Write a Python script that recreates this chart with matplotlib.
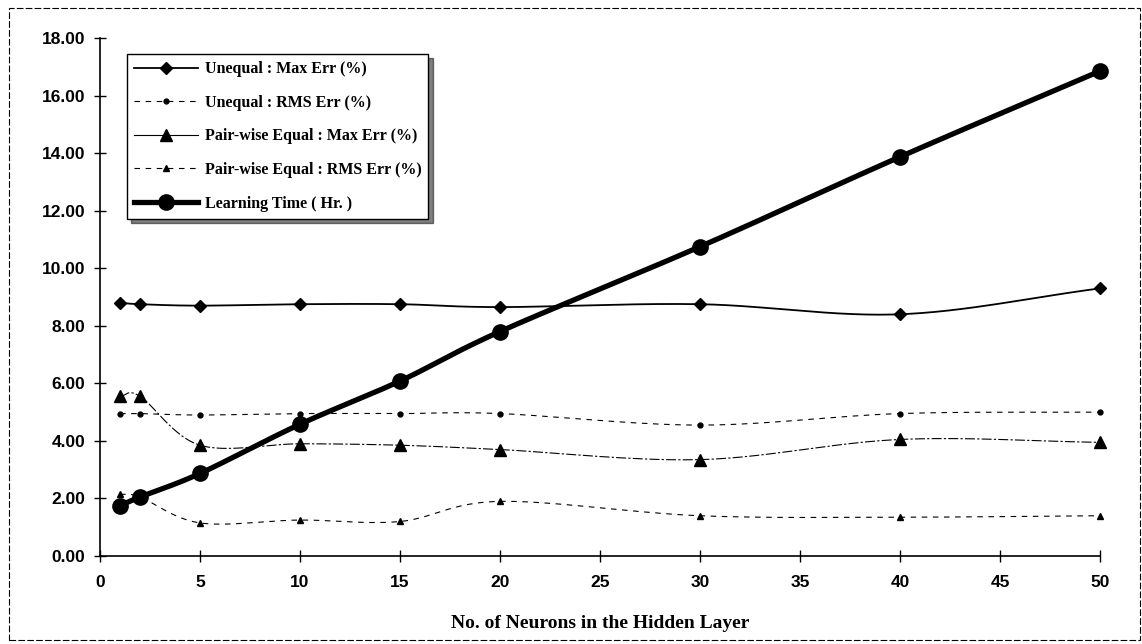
import numpy as np
import matplotlib
matplotlib.use('Agg')
import matplotlib.pyplot as plt
from matplotlib.lines import Line2D
from matplotlib.patches import Rectangle

neurons = [1, 2, 5, 10, 15, 20, 30, 40, 50]
unequal_max = [8.8, 8.75, 8.7, 8.75, 8.75, 8.65, 8.75, 8.4, 9.3]
unequal_rms = [4.95, 4.95, 4.9, 4.95, 4.95, 4.95, 4.55, 4.95, 5.0]
pair_max = [5.55, 5.55, 3.85, 3.9, 3.85, 3.7, 3.35, 4.05, 3.95]
pair_rms = [2.15, 2.05, 1.15, 1.25, 1.2, 1.9, 1.4, 1.35, 1.4]
learning = [1.75, 2.05, 2.87, 4.58, 6.08, 7.8, 10.75, 13.87, 16.85]

labels = ['Unequal : Max Err (%)', 'Unequal : RMS Err (%)',
          'Pair-wise Equal : Max Err (%)', 'Pair-wise Equal : RMS Err (%)',
          'Learning Time ( Hr. )']
x_ticks = [0, 5, 10, 15, 20, 25, 30, 35, 40, 45, 50]
y_ticks = [0, 2, 4, 6, 8, 10, 12, 14, 16, 18]


def smooth(xs, ys, sx=20.0, sy=28.8, n=30):
    # Catmull-Rom through the points (Excel style smoothed line), done in pixel-like space
    p = np.column_stack([np.asarray(xs, float) * sx, np.asarray(ys, float) * sy])
    p = np.vstack([p[0] * 2 - p[1], p, p[-1] * 2 - p[-2]])
    out = []
    for i in range(1, len(p) - 2):
        p0, p1, p2, p3 = p[i - 1], p[i], p[i + 1], p[i + 2]
        t = np.linspace(0, 1, n)[:, None]
        seg = 0.5 * ((2 * p1) + (-p0 + p2) * t + (2 * p0 - 5 * p1 + 4 * p2 - p3) * t ** 2
                     + (-p0 + 3 * p1 - 3 * p2 + p3) * t ** 3)
        out.append(seg)
    out = np.vstack(out)
    return out[:, 0] / sx, out[:, 1] / sy


fig = plt.figure(figsize=(11.42, 6.44), dpi=100)
ax = fig.add_axes([0.0876, 0.1366, 0.8756, 0.8044])

series = [
    (unequal_max, dict(ls='-', lw=1.3), dict(marker='D', ms=6.5)),
    (unequal_rms, dict(ls=(0, (5, 5)), lw=0.8), dict(marker='o', ms=3.5)),
    (pair_max, dict(ls=(0, (9, 2, 2, 2)), lw=0.8), dict(marker='^', ms=9)),
    (pair_rms, dict(ls=(0, (5, 5)), lw=0.8), dict(marker='^', ms=4.5)),
    (learning, dict(ls='-', lw=3.8), dict(marker='o', ms=11)),
]

handles = []
for (vals, lstyle, mstyle), lab in zip(series, labels):
    sx_, sy_ = smooth(neurons, vals)
    ax.plot(sx_, sy_, color='black', **lstyle, solid_capstyle='round', clip_on=False)
    ax.plot(neurons, vals, ls='none', color='black', mec='black', clip_on=False, **mstyle)
    leg_ls = dict(lstyle)
    if lab.startswith('Pair-wise Equal : Max'):
        leg_ls['ls'] = '-'
    handles.append(Line2D([], [], color='black', mec='black', **leg_ls, **mstyle))

ax.set_xlim(0, 50)
ax.set_ylim(0, 18)
ax.set_xticks(x_ticks)
ax.set_yticks(y_ticks)
ax.set_yticklabels(['%.2f' % v for v in y_ticks])
ax.set_xticklabels([str(v) for v in x_ticks])
for s in ['top', 'right']:
    ax.spines[s].set_visible(False)
for s in ['left', 'bottom']:
    ax.spines[s].set_linewidth(1.2)
ax.tick_params(direction='inout', length=9, width=1.0)
ax.tick_params(axis='x', pad=9)
ax.tick_params(axis='y', pad=6)
for t in ax.get_xticklabels() + ax.get_yticklabels():
    t.set_fontfamily('Liberation Sans')
    t.set_fontweight('bold')
    t.set_fontsize(12.5)

ax.set_xlabel('No. of Neurons in the Hidden Layer', family='Liberation Serif',
              fontweight='bold', fontsize=14, labelpad=18)

leg = ax.legend(handles, labels, loc='upper left', bbox_to_anchor=(0.027, 0.969),
                prop={'family': 'Liberation Serif', 'weight': 'bold', 'size': 11.5},
                handlelength=4.0, handletextpad=0.4, labelspacing=1.1,
                borderpad=0.45, borderaxespad=0, frameon=True, fancybox=False,
                shadow={'color': 'black', 'ox': 3, 'oy': -3})
leg.get_frame().set_edgecolor('black')
leg.get_frame().set_linewidth(1.0)

# outer chart border
fig.patches.append(Rectangle((0.008, 0.006), 0.99, 0.982, transform=fig.transFigure,
                             fill=False, ec='black', lw=0.8, ls=(0, (6, 2))))

fig.savefig('out.png', dpi=100)
